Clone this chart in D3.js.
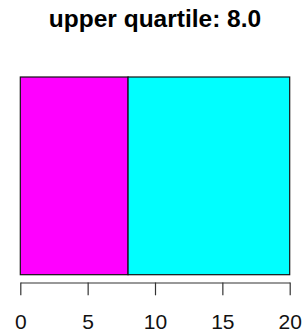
<!DOCTYPE html>
<html>
<head>
<meta charset="utf-8">
<script src="https://cdn.jsdelivr.net/npm/d3@7"></script>
<style>
  body { margin: 0; background: #fff; }
  svg { display: block; font-family: "Liberation Sans", Arial, sans-serif; }
</style>
</head>
<body>
<div id="chart"></div>
<script>
// data
const segmentStarts = [0, 8]
const segmentEnds = [8, 20]
const segmentColors = ['#ff00ff', '#00ffff']
const tickValues = [0, 5, 10, 15, 20]
const titleText = 'upper quartile: 8.0'

const width = 304
const height = 336
const plotLeft = 20.3
const plotRight = 289.7
const plotTop = 77
const plotBottom = 274.7
const axisY = 282.5

const x = d3.scaleLinear().domain([0, 20]).range([plotLeft, plotRight])

const svg = d3.select('#chart').append('svg')
  .attr('width', width)
  .attr('height', height)

svg.append('text')
  .attr('x', (plotLeft + plotRight) / 2)
  .attr('y', 26.5)
  .attr('text-anchor', 'middle')
  .attr('font-weight', 'bold')
  .attr('font-size', 24.5)
  .text(titleText)

// bar segments
svg.selectAll('rect.seg')
  .data(segmentStarts.map((s, i) => ({ s, e: segmentEnds[i], c: segmentColors[i] })))
  .join('rect')
  .attr('class', 'seg')
  .attr('x', d => x(d.s))
  .attr('y', plotTop)
  .attr('width', d => x(d.e) - x(d.s))
  .attr('height', plotBottom - plotTop)
  .attr('fill', d => d.c)
  .attr('stroke', '#111')
  .attr('stroke-width', 1.2)

// axis
const axis = svg.append('g')
  .attr('transform', `translate(0,${axisY})`)
  .call(d3.axisBottom(x).tickValues(tickValues).tickSize(12.8).tickPadding(19).tickSizeOuter(0))

axis.select('.domain').attr('stroke', '#333').attr('stroke-width', 1.2)
axis.selectAll('.tick line').attr('stroke', '#333').attr('stroke-width', 1.2)
axis.selectAll('.tick text')
  .attr('font-size', 21)
  .attr('font-family', '"Liberation Sans", Arial, sans-serif')
  .attr('fill', '#111')
</script>
</body>
</html>
